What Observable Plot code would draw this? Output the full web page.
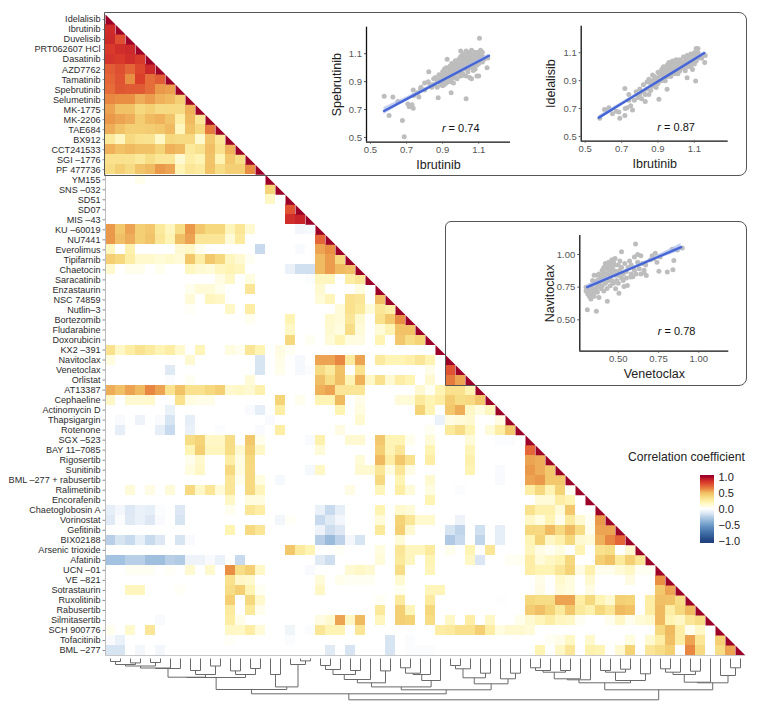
<!DOCTYPE html>
<html><head><meta charset="utf-8">
<script src="https://cdn.jsdelivr.net/npm/d3@7"></script>
<script src="https://cdn.jsdelivr.net/npm/@observablehq/plot@0.6"></script>
<style>
html,body{margin:0;padding:0;background:#fff}
#page{position:relative;width:760px;height:714px;overflow:hidden;font-family:"Liberation Sans",sans-serif}
#page>svg,#page>div{position:absolute}
</style></head><body><div id="page"></div>
<script>
const drugs = ["Idelalisib","Ibrutinib","Duvelisib","PRT062607 HCl","Dasatinib","AZD7762","Tamatinib","Spebrutinib","Selumetinib","MK-1775","MK-2206","TAE684","BX912","CCT241533","SGI –1776","PF 477736","YM155","SNS –032","SD51","SD07","MIS –43","KU –60019","NU7441","Everolimus","Tipifarnib","Chaetocin","Saracatinib","Enzastaurin","NSC 74859","Nutlin–3","Bortezomib","Fludarabine","Doxorubicin","KX2 –391","Navitoclax","Venetoclax","Orlistat","AT13387","Cephaeline","Actinomycin D","Thapsigargin","Rotenone","SGX –523","BAY 11–7085","Rigosertib","Sunitinib","BML –277 + rabusertib","Ralimetinib","Encorafenib","Chaetoglobosin A","Vorinostat","Gefitinib","BIX02188","Arsenic trioxide","Afatinib","UCN –01","VE –821","Sotrastaurin","Ruxolitinib","Rabusertib","Silmitasertib","SCH 900776","Tofacitinib","BML –277"];

// Lower triangle: the dense upper block, one array per row starting at column 0
const denseRows = [
 [],
 [.87],
 [.88,.76],
 [.82,.86,.88],
 [.84,.82,.86,.82],
 [.72,.76,.7,.78,.88],
 [.7,.75,.6,.8,.68,.72],
 [.68,.74,.73,.73,.68,.58,.56],
 [.62,.6,.6,.53,.57,.52,.5,.42],
 [.55,.47,.47,.38,.42,.36,.37,.36,.52],
 [.58,.55,.53,.43,.5,.52,.46,.25,.5,.3],
 [.53,.47,.42,.42,.43,.45,.5,.17,.47,.38,.65],
 [.28,.17,.37,.33,.32,.15,.38,.36,.37,.13,.45,.3],
 [.52,.47,.5,.47,.47,.4,.52,.5,.28,.32,.48,.33,.52],
 [.33,.33,.32,.28,.35,.3,.3,.12,.25,.2,.46,.2,.45,.35],
 [.35,.42,.36,.46,.5,.58,.55,.2,.3,.27,.47,.35,.42,.42,.6]
];
// Remaining rows: column index -> coefficient, blank cells are close to 0
const sparseRows = [
 {3:.05},
 {16:.4},
 {16:.15},
 {18:.75},
 {18:.86,19:.9},
 {0:.58,1:.45,2:.55,3:.42,4:.45,5:.28,6:.17,7:.35,8:.58,9:.45,10:.38,11:.38,12:.18,13:.3,14:.12,19:-.05,20:-.04},
 {0:.58,1:.48,2:.53,3:.42,4:.46,5:.3,6:.2,7:.48,8:.55,9:.3,10:.3,11:.3,12:.1,13:.27,21:.7},
 {0:.17,2:.22,7:.12,8:.15,9:.05,15:-.2,19:-.03,21:.55,22:.6},
 {0:.42,1:.38,2:.25,3:.13,4:.13,5:.1,6:.13,7:.1,8:.45,9:.25,10:.45,11:.38,12:.17,13:.12,14:.03,21:.5,22:.57,23:.38},
 {0:.13,2:.05,3:.05,5:.04,8:.16,9:.12,10:.1,11:.17,12:.2,13:.17,18:-.08,19:-.17,20:-.17,21:.5,22:.57,23:.5,24:.48},
 {11:.07,12:.15,14:.08,20:-.02,21:.17,22:.17,24:.25,25:.3},
 {8:.05,9:.1,10:.1,11:.05,14:.3,21:.12,25:.08},
 {8:.1,10:.17,11:.15,21:.1,22:.18,24:.33,25:.3,27:.48},
 {8:.02,12:.15,14:.25,23:.1,24:.33,25:.28,26:.1,27:.3,28:.25},
 {14:.04,18:.2,22:.13,23:.1,24:.3,25:.12,27:.33,28:.45,29:.6},
 {18:.15,22:.12,23:.08,24:.35,25:.1,27:.1,28:.2,29:.47,30:.47},
 {18:.38,20:.03,22:.1,23:.2,24:.08,25:.07,27:.2,29:.45,30:.35,31:.4},
 {0:.33,1:.15,2:.25,3:.32,4:.27,5:.2,6:.25,7:.13,9:.18,12:.08,13:.05,14:.3,15:.2,17:.07,18:.03},
 {0:.08,8:.12,15:-.15,17:.06,19:-.04,21:.55,22:.55,23:.62,24:.27,25:.55,27:.27,28:.2,29:.2,30:.23,31:.3,32:.2},
 {6:-.12,15:-.15,17:.05,19:-.04,20:-.02,21:.36,22:.28,23:.47,25:.33,32:.06,34:.75},
 {6:-.02,8:.03,14:.1,21:.48,22:.35,23:.48,24:.2,25:.52,26:.15,27:.33,28:.12,29:.25,30:.2,32:.12,34:.65,35:.55},
 {0:.53,1:.48,2:.55,3:.5,4:.62,5:.55,6:.32,7:.47,8:.33,9:.33,10:.38,11:.42,12:.13,13:.15,14:.12,15:.22,21:.52,22:.55,23:.3,24:.3,25:.3,31:.12,32:.03,33:.2,34:.33,35:.33,36:.2},
 {0:.15,2:.12,3:.12,4:.13,7:.33,8:.08,9:.06,10:.06,17:.4,19:.05,21:.2,22:.2,23:.5,25:.06,29:.1,30:.1,31:.28,32:.2,33:.25,34:.43,35:.35,36:.37,37:.45},
 {6:-.08,14:-.03,15:-.1,17:.25,23:.2,25:.08,31:.4,32:.2,34:.45,35:.53,36:.15,37:.08,38:.17},
 {1:-.03,3:-.07,5:-.03,6:-.15,8:-.1,16:-.03,25:.12,33:-.08,34:.07,35:.1,36:.12,39:.07},
 {1:-.1,5:-.1,6:-.2,8:-.08,11:-.02,15:-.03,17:.25,23:.07,32:.03,34:.28,35:.35,36:.2,38:.1,39:.25,40:.45},
 {8:.35,9:.4,10:.15,11:.15,12:.35,14:.45,15:.05,20:-.03,21:.22,24:.12,25:.12,27:.45,28:.2,29:.2,30:.05,32:.1,36:.1,39:-.02,40:-.02},
 {8:.2,9:.42,10:.17,11:.17,12:.35,13:.12,14:.42,15:.15,21:.1,27:.42,28:.2,29:.3,32:.2,36:.18,42:.7},
 {8:.05,9:.13,12:.25,13:.07,14:.38,25:.1,27:.5,28:.25,29:.45,30:.33,32:.25,36:.22,42:.55,43:.53},
 {8:.08,9:.15,12:.37,13:.08,14:.37,20:-.04,21:.15,25:.12,26:.12,27:.3,28:.08,29:.3,30:.07,36:.2,39:-.03,42:.58,43:.53,44:.45},
 {12:.3,13:.05,14:.37,15:.08,17:-.04,27:.37,29:.2,32:.12,39:-.03,42:.55,43:.58,44:.45,45:.45},
 {2:.1,4:.07,6:.1,8:.37,9:.15,10:.3,11:.1,12:.3,14:.37,15:.18,24:.07,27:.18,29:.25,30:.1,32:.08,35:-.02,42:.25,43:.38,44:.2,45:.4,46:.03},
 {12:.15,14:.08,15:.08,32:.2,43:.1,44:.1,45:.25,46:.2},
 {0:-.1,1:-.05,2:-.13,3:-.08,4:-.1,5:-.02,7:-.13,12:.04,14:.3,15:.25,21:-.08,22:-.2,23:-.1,27:.2,29:.13,30:.1,42:.33,43:.22,44:.22,45:.1,46:.45},
 {0:-.12,1:-.02,2:-.12,3:-.08,4:-.13,5:-.03,7:-.15,17:-.05,18:.02,21:-.2,22:-.12,23:-.05,27:.1,29:.4,30:.3,31:.13,32:.13,35:-.07,42:.15,43:.08,44:.2,45:.05,46:.27,47:.12,48:.03,49:.58},
 {12:.2,14:.37,15:.3,21:-.07,22:-.18,23:-.13,27:.28,29:.42,30:.12,34:-.15,35:-.22,37:-.17,39:-.1,42:.38,43:.37,44:.5,45:.37,46:.5,47:.35,48:.05,49:.55,50:.55},
 {0:-.25,1:-.15,2:-.2,3:-.1,4:-.2,5:-.13,7:-.15,8:-.03,21:-.25,22:-.35,23:-.23,24:-.05,25:-.15,29:.1,34:-.28,35:-.2,37:-.22,39:-.1,42:.2,43:.4,44:.15,45:.22,46:.38,47:.12,48:.1,49:.52,50:.62,51:.7},
 {18:.45,19:.27,20:.2,23:.02,27:.08,29:.3,30:.17,31:.17,32:.27,34:.05,36:.2,38:.3,42:.17,43:.07,44:.03,45:.08,47:.2,49:.33,50:.35,52:.12},
 {0:-.32,1:-.32,2:-.25,3:-.25,4:-.33,5:-.33,6:-.25,7:-.27,8:-.07,9:-.07,10:-.03,11:-.08,13:-.2,21:-.12,22:-.18,27:.1,29:.28,30:.17,32:.2,36:.15,37:-.14,40:.03,41:.04,42:.25,43:.1,44:.15,45:.2,46:.38,49:.42,50:.47,51:.28,52:.42,53:.3},
 {2:.03,3:.03,4:.03,6:.02,8:.12,10:.13,12:.6,13:.35,14:.42,15:.15,20:-.03,24:.12,25:.15,26:.12,29:.35,32:.18,42:.25,43:.2,44:.2,45:.3,46:.4,47:.07,48:.22,49:.05,50:.05,51:.1,52:.15,53:.03,54:.03},
 {12:.33,13:.15,14:.13,21:.1,23:.05,24:.03,25:.03,26:.03,29:.12,43:.06,45:.13,46:.08,48:.12,52:.07,55:.6},
 {2:.17,3:.17,7:.02,12:.35,13:.42,14:.2,15:.03,21:.15,29:.04,32:.18,33:.18,43:.07,45:.1,46:.08,48:.07,55:.45,56:.55},
 {12:.42,14:.38,15:.13,27:.03,29:.27,32:.27,39:-.01,42:.38,43:.35,44:.35,45:.55,46:.55,47:.25,48:.38,49:.2,50:.12,51:.42,52:.4,54:.25,55:.48,56:.47,57:.35},
 {12:.27,14:.28,15:.05,27:.28,29:.42,30:.18,32:.38,42:.43,43:.48,44:.4,45:.28,46:.45,47:.28,48:.22,49:.38,50:.3,51:.5,52:.47,54:.25,55:.5,56:.25,57:.38,58:.5},
 {5:-.03,12:.25,13:.06,21:.07,22:.12,23:.55,24:.15,25:.5,27:.17,29:.42,30:.4,32:.35,34:.15,36:.25,38:.15,41:.05,42:.12,43:.18,44:.25,45:.17,46:.15,47:.03,50:.05,51:.15,52:.05,53:.1,54:.13,55:.5,56:.2,57:.15,58:.3,59:.35},
 {0:.04,2:.13,4:.3,12:.15,13:.15,14:.25,15:.1,18:-.06,20:-.02,21:.3,22:.2,23:.2,25:.3,33:.25,34:.27,35:.33,36:.33,37:.42,38:.25,39:.08,40:.12,41:.12,42:.1,55:.38,56:.5,57:.25,58:.05,59:.15},
 {0:-.03,1:-.08,12:.02,18:-.02,28:-.15,30:-.02,44:.03,45:.06,46:.15,48:.13,52:.08,54:.12,55:.25,56:.48,57:.25,58:.55,59:.3,61:.42},
 {0:-.15,1:-.15,3:-.05,5:-.05,22:-.12,24:-.15,28:-.15,30:-.02,31:-.02,32:-.02,43:.2,45:.15,46:.3,48:.22,49:.2,51:.12,52:.4,54:.3,55:.35,56:.42,58:.62,59:.37,61:.35,62:.55}
];

// Dendrogram: [merge height, left branch, right branch], integers are leaf columns
const leftCore = [18.7,[10,[9.5,[7.5,[6,[3,0,1],[4.4,2,3]],[4,4,5]],6],7],[16,[12,8,9],[7.5,10,11]]];
const leftGroup = [31,[19,leftCore,[16,[12.4,12,13],[10,14,15]]],[28.4,[16,16,17],[6,18,[2.4,19,20]]]];
const midA = [24.3,[21,[16,[11,[7,21,22],23],[12,24,25]],26],[12.4,27,28]];
const midB = [22,[16,[14.7,[9.3,29,30],31],32],33];
const midC = [25.3,[19.3,[10.3,[7,34,35],36],[14.7,37,38]],[20.3,39,[14.7,40,41]]];
const midGroup = [31.3,[28.4,midA,midB],midC];
const rightA = [21.3,[20.3,[13.7,[12,[9.3,42,43],44],[12,45,46]],47],48];
const rightB = [22,[13.7,[12,49,50],[10.7,51,52]],[15.3,53,54]];
const rightC = [23.7,[16,[13.7,[10.3,55,56],57],[12.7,58,59]],60];
const rightD = [17,61,[9.3,62,63]];
const rightGroup = [31.3,[24.3,rightA,rightB],[24.3,rightC,rightD]];
const dendroRoot = [41.3,[35.3,leftGroup,midGroup],rightGroup];

// Scatter panels, flat x,y pairs
const ibrSpeb = [.576,.796,.624,.79,.603,.658,.652,.758,.677,.622,.687,.505,.707,.74,.715,.72,.73,.734,.737,.71,.737,.84,.768,.79,.777,.85,.823,.97,.875,.785,.947,.82,1.03,.777,.925,1.06,1.104,1.21,1.15,1.07,1.146,1.0,1.09,.94,1.06,.92,1.017,.945,
1.03,1.12,1.06,1.125,1.08,1.11,1.11,1.125,1.0,1.12,
.74,.8,.76,.82,.78,.86,.8,.89,.8,.84,.82,.9,.83,.88,.84,.86,.85,.92,.85,.88,.86,.93,.87,.9,.87,.86,.88,.95,.88,.91,.89,.88,.89,.93,.9,.97,.9,.94,.9,.9,.9,.87,.91,.99,.91,.92,.91,.88,.92,1.0,.92,.96,.92,.93,.92,.89,.93,.98,.93,.94,.93,.91,.94,1.01,.94,.97,.94,.93,.94,.9,.95,1.03,.95,.99,.95,.96,.95,.92,.96,1.02,.96,.98,.96,.94,.96,.89,.97,1.05,.97,1.0,.97,.97,.97,.93,.98,1.03,.98,1.0,.98,.96,.98,.92,.99,1.06,.99,1.02,.99,.99,.99,.96,1.0,1.08,1.0,1.05,1.0,1.01,1.0,.98,1.0,.94,1.01,1.09,1.01,1.06,1.01,1.03,1.01,1.0,1.01,.96,1.02,1.1,1.02,1.07,1.02,1.04,1.02,1.01,1.03,1.08,1.03,1.05,1.03,1.02,1.03,.99,1.03,.94,1.04,1.1,1.04,1.06,1.04,1.03,1.04,1.0,1.04,.97,1.05,1.11,1.05,1.08,1.05,1.05,1.05,1.01,1.05,.93,1.06,1.07,1.06,1.04,1.06,1.0,1.07,1.09,1.07,1.05,1.07,1.02,1.07,.98,1.08,1.08,1.08,1.04,1.08,.99,1.09,1.1,1.09,1.06,1.09,1.02,1.1,1.11,1.1,1.07,1.1,1.03,1.1,.94,1.11,1.09,1.11,1.05,1.12,1.11,1.12,1.08,1.12,1.04,1.13,1.06];
const ibrIdel = [.58,.63,.606,.694,.63,.706,.65,.663,.685,.675,.69,.63,.718,.65,.718,.843,.73,.706,.74,.8,.76,.69,.83,.75,.905,.766,.95,.838,1.06,.92,1.107,.897,1.157,1.03,1.16,1.08,1.11,1.13,1.12,1.13,.62,.69,.67,.68,.72,.7,.74,.76,.75,.72,
.77,.76,.78,.82,.79,.78,.8,.84,.8,.8,.81,.77,.82,.87,.82,.82,.83,.8,.84,.89,.84,.84,.85,.8,.85,.91,.86,.88,.86,.83,.87,.94,.87,.9,.87,.86,.88,.93,.88,.88,.89,.91,.89,.85,.9,.96,.9,.92,.9,.88,.91,.95,.91,.9,.92,.98,.92,.94,.92,.9,.93,1.0,.93,.96,.93,.92,.94,.98,.94,.94,.94,.9,.95,1.01,.95,.97,.95,.93,.96,1.03,.96,.99,.96,.95,.97,1.01,.97,.97,.97,.93,.98,1.04,.98,1.0,.98,.96,.99,1.02,.99,.98,.99,.95,1.0,1.05,1.0,1.01,1.0,.97,1.01,1.03,1.01,.99,1.01,.95,1.02,1.05,1.02,1.01,1.02,.97,1.03,1.03,1.03,.99,1.04,1.07,1.04,1.03,1.04,.99,1.05,1.05,1.05,1.01,1.05,.97,1.06,1.08,1.06,1.04,1.06,1.0,1.07,1.06,1.07,1.02,1.08,1.09,1.08,1.05,1.08,1.0,1.09,1.07,1.09,1.03,1.09,.98,1.1,1.1,1.1,1.06,1.1,1.02,1.11,1.08,1.11,1.04,1.12,1.1,1.12,1.06,1.13,1.08,1.14,1.06];
const venNav = [.308,.577,.364,.566,.432,.643,.607,1.08,.52,1.02,.752,.872,.804,.865,.839,.883,.845,.954,.897,1.05,.835,1.04,.866,1.035,.483,.737,.504,.704,.535,.755,.556,.763,.674,.839,.576,.827,
.3,.72,.3,.75,.31,.7,.31,.74,.32,.68,.32,.72,.33,.76,.33,.66,.34,.74,.34,.7,.34,.8,.35,.84,.35,.78,.35,.72,.35,.68,.36,.74,.37,.84,.37,.8,.37,.76,.37,.71,.38,.67,.38,.85,.38,.78,.39,.74,.39,.82,.4,.88,.4,.84,.4,.8,.4,.76,.41,.72,.41,.9,.41,.86,.42,.93,.42,.89,.42,.82,.42,.78,.43,.74,.43,.91,.43,.85,.44,.94,.44,.88,.44,.8,.45,.76,.45,.92,.45,.84,.46,.96,.46,.9,.46,.86,.46,.8,.47,.78,.47,.94,.47,.88,.48,.84,.48,.97,.48,.92,.49,.8,.49,.87,.5,.92,.5,.84,.5,.78,.51,.88,.51,.95,.52,.82,.52,.9,.53,.85,.53,.8,.54,.93,.55,.87,.55,.82,.56,.9,.57,.95,.58,.85,.58,.92,.59,.83,.6,.88,.6,.98,.61,.85,.62,1.0,.62,.94,.63,.89,.64,.85,.64,.99,.65,.93,.66,.88,.66,.86,.67,.92,.7,.96,.71,.99,.72,.97,.73,1.01,.74,.94,.76,.98];

// Fit lines: x, fit, half width of the confidence band
const speFit = [[.575,.69,.025],[.7,.775,.014],[.9,.911,.007],[1.157,1.085,.014]];
const ideFit = [[.575,.635,.014],[.8,.815,.007],[.95,.934,.005],[1.155,1.098,.011]];
const navFit = [[.307,.75,.018],[.5,.851,.01],[.7,.956,.012],[.89,1.056,.028]];

const colorOptions = {
  type: "linear", clamp: true,
  domain: [-1,-.75,-.5,-.3,-.1,0,.08,.2,.3,.4,.5,.6,.7,.8,.9,1],
  range: ["#21437f","#3e6da6","#6e9cc9","#a9c5e2","#e6eef7","#ffffff","#fffcdf","#fff4b4","#fae696","#f5d478","#f0ba60","#e98f44","#e36538","#da3f2b","#c9232a","#9c0028"]
};
const FONT = '"Liberation Sans",sans-serif';
const page = document.getElementById("page");

const cells = [];
denseRows.forEach((vals, row) => vals.forEach((value, col) => cells.push({row, col, value})));
sparseRows.forEach((rowObj, k) => {
  const row = denseRows.length + k;
  for (const c in rowObj) cells.push({row, col: +c, value: rowObj[c]});
});
const triangles = drugs.flatMap((_, i) => [
  {id:i, x:i, y:i}, {id:i, x:i, y:i+1}, {id:i, x:i+1, y:i+1}
]);
const rowCenters = drugs.map((_, i) => i + .5);

const heat = Plot.plot({
  width: 760, height: 714, marginLeft:105, marginRight:15, marginTop:14, marginBottom:59,
  style: {fontFamily: FONT, background: "transparent"},
  x: {domain: [0,64], axis: null},
  y: {domain: [0,64], reverse: true, axis: null},
  color: colorOptions,
  marks: [
    Plot.rect(cells, {x1:"col", x2:d=>d.col+1, y1:"row", y2:d=>d.row+1, fill:"value", shapeRendering:"crispEdges"}),
    Plot.line(triangles, {x:"x", y:"y", z:"id", fill:"#9c0028", stroke:"none"}),
    Plot.ruleX([0], {y1:16, y2:64, stroke:"#bdbdbd"}),
    Plot.ruleY([64], {x1:0, x2:64, stroke:"#c8c8c8"}),
    Plot.axisY(rowCenters, {anchor:"left", tickSize:2.5, tickPadding:2.5, fontSize:9.1, color:"#2b2b2b", stroke:"#888",
      tickFormat:d=>drugs[d-.5], label:null})
  ]
});
page.append(heat);

// Dendrogram segments from the merge tree
const segments = [];
(function walk(node){
  if (typeof node === "number") return {x: node + .5, h: 0};
  const [h, a, b] = node;
  const l = walk(a), r = walk(b);
  segments.push({x1:l.x,y1:l.h,x2:l.x,y2:h},{x1:r.x,y1:r.h,x2:r.x,y2:h},{x1:l.x,y1:h,x2:r.x,y2:h});
  return {x:(l.x+r.x)/2, h};
})(dendroRoot);
const dendro = Plot.plot({
  width: 760, height: 50, marginLeft:105, marginRight:15, marginTop:0, marginBottom:0,
  style: {background: "transparent"},
  x: {domain:[0,64], axis:null},
  y: {domain:[0,50], reverse:true, axis:null},
  marks: [Plot.link(segments, {x1:"x1", y1:"y1", x2:"x2", y2:"y2", stroke:"#6a6a6a", strokeWidth:1})]
});
dendro.style.left = "0px"; dendro.style.top = "658px";
page.append(dendro);

// Inset boxes
function box(l,t,r,b,radius){
  const d = document.createElement("div");
  d.style.cssText = `left:${l}px;top:${t}px;width:${r-l}px;height:${b-t}px;border:1.5px solid #555;border-radius:${radius};box-sizing:border-box;pointer-events:none`;
  page.append(d);
}
box(104,12,747,176,"0 8px 8px 0");
box(445,221,747,386,"6px 8px 8px 0");

function pairs(flat){ const out=[]; for(let i=0;i<flat.length;i+=2) out.push({x:flat[i],y:flat[i+1]}); return out; }

function scatter({left,top,width,height,ml,mr,mt,mb,xDomain,yDomain,xTicks,yTicks,fmt,pts,fit,xName,yName,rText,rAt}){
  const p = Plot.plot({
    width, height, marginLeft:ml, marginRight:mr, marginTop:mt, marginBottom:mb,
    style:{fontFamily:FONT, background:"transparent"},
    x:{domain:xDomain, axis:null},
    y:{domain:yDomain, axis:null},
    marks:[
      Plot.dot(pairs(pts), {x:"x", y:"y", r:2.5, fill:"#bdbdbd"}),
      Plot.areaY(fit, {x:d=>d[0], y1:d=>d[1]-d[2], y2:d=>d[1]+d[2], fill:"#aebde8", fillOpacity:.7}),
      Plot.line(fit, {x:d=>d[0], y:d=>d[1], stroke:"#4766d6", strokeWidth:2.4}),
      Plot.ruleX([xDomain[0]], {stroke:"#111", strokeWidth:1.3}),
      Plot.ruleY([yDomain[0]], {stroke:"#111", strokeWidth:1.3}),
      Plot.axisX(xTicks, {anchor:"bottom", tickSize:2, tickPadding:2.5, fontSize:9.5, color:"#555", tickFormat:fmt, label:null}),
      Plot.axisY(yTicks, {anchor:"left", tickSize:2, tickPadding:2.5, fontSize:9.5, color:"#555", tickFormat:fmt, label:null}),
      Plot.text([xName], {text:d=>d, frameAnchor:"bottom", dy:22.5, lineAnchor:"middle", textAnchor:"middle", fontSize:12.5, fill:"#222"}),
      Plot.text([yName], {text:d=>d, frameAnchor:"left", dx:-30, rotate:-90, lineAnchor:"middle", textAnchor:"middle", fontSize:12.5, fill:"#222"}),
      Plot.text([rText], {text:d=>d, x:()=>rAt[0], y:()=>rAt[1], fontSize:11, fill:"#111", lineAnchor:"middle",
        render:(i,s,v,d,c,next)=>{
          const g = next(i,s,v,d,c);
          g.querySelectorAll("text").forEach(t=>{
            const rest = t.textContent.slice(1);
            t.textContent = "";
            const it = document.createElementNS("http://www.w3.org/2000/svg","tspan");
            it.setAttribute("font-style","italic"); it.textContent = "r";
            t.append(it, rest);
          });
          return g;
        }})
    ]
  });
  p.style.left = left+"px"; p.style.top = top+"px";
  page.append(p);
}

const tenth = d3.format(".1f"), hundredth = d3.format(".2f");
scatter({left:320,top:20,width:200,height:155,ml:46,mr:10,mt:6.7,mb:33.3,xDomain:[.478,1.276],yDomain:[.466,1.29],
  xTicks:[.5,.7,.9,1.1],yTicks:[.5,.7,.9,1.1],fmt:tenth,pts:ibrSpeb,fit:speFit,xName:"Ibrutinib",yName:"Spebrutinib",rText:"r = 0.74",rAt:[1.0,.564]});
scatter({left:535,top:20,width:200,height:155,ml:45.7,mr:7.3,mt:5.7,mb:34.3,xDomain:[.478,1.286],yDomain:[.466,1.29],
  xTicks:[.5,.7,.9,1.1],yTicks:[.5,.7,.9,1.1],fmt:tenth,pts:ibrIdel,fit:ideFit,xName:"Ibrutinib",yName:"Idelalisib",rText:"r = 0.87",rAt:[1.0,.562]});
scatter({left:533,top:228,width:205,height:155,ml:46.3,mr:9.7,mt:7,mb:32.3,xDomain:[.261,1.186],yDomain:[.26,1.145],
  xTicks:[.5,.75,1],yTicks:[.5,.75,1],fmt:hundredth,pts:venNav,fit:navFit,xName:"Venetoclax",yName:"Navitoclax",rText:"r = 0.78",rAt:[.862,.41]});

// Colour legend
const ramp = d3.range(-1.05,1.05,.02);
const legend = Plot.plot({
  width:135, height:100, marginLeft:80, marginRight:41, marginTop:25, marginBottom:7,
  style:{fontFamily:FONT, background:"transparent"},
  x:{domain:[0,1], axis:null},
  y:{domain:[-1.05,1.05], axis:null},
  color:colorOptions,
  marks:[
    Plot.rect(ramp, {x1:0, x2:1, y1:d=>d, y2:d=>d+.02, fill:d=>d, shapeRendering:"crispEdges"}),
    Plot.axisY([-1,-.5,0,.5,1], {anchor:"right", tickSize:0, tickPadding:4, fontSize:11, color:"#222",
      tickFormat:d=>d3.format(".1f")(d).replace("-","−"), label:null})
  ]
});
legend.style.left="620px"; legend.style.top="450px";
page.append(legend);
const title = document.createElement("div");
title.textContent = "Correlation coefficient";
title.style.cssText = "left:628px;top:450px;font-size:12.1px;color:#222;white-space:nowrap;line-height:14px";
page.append(title);
</script></body></html>
